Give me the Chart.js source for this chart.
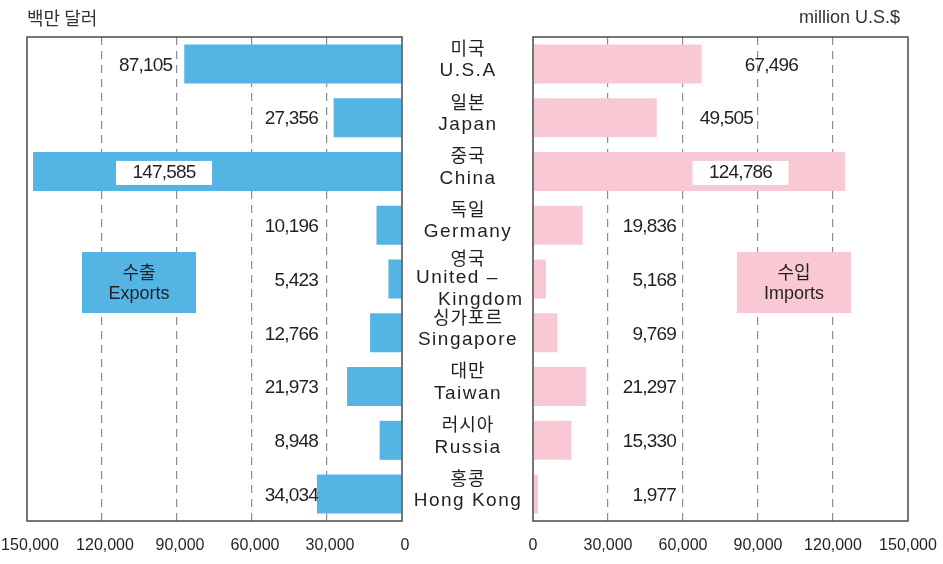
<!DOCTYPE html>
<html>
<head>
<meta charset="utf-8">
<script src="https://cdn.jsdelivr.net/npm/chart.js@4.4.1/dist/chart.umd.min.js"></script>
<style>
  html, body { margin: 0; padding: 0; background: #fff; }
  #wrap { position: relative; width: 943px; height: 564px; }
  canvas { position: absolute; left: 0; top: 0; }
</style>
</head>
<body>
<div id="wrap">
  <canvas id="exp" width="943" height="564"></canvas>
  <canvas id="imp" width="943" height="564"></canvas>
</div>
<script>
// data
const countriesKo = ['미국', '일본', '중국', '독일', '영국', '싱가포르', '대만', '러시아', '홍콩'];
const countriesEn = ['U.S.A', 'Japan', 'China', 'Germany', 'United Kingdom', 'Singapore', 'Taiwan', 'Russia', 'Hong Kong'];
const exportsVal = [87105, 27356, 147585, 10196, 5423, 12766, 21973, 8948, 34034];
const importsVal = [67496, 49505, 124786, 19836, 5168, 9769, 21297, 15330, 1977];
const axisMax = 150000;
const axisStep = 30000;

const BLUE = '#54b5e5';
const PINK = '#f8c9d4';
const TXT = '#231f20';
const NUM_FONT = '19px "Liberation Sans", Arial, sans-serif';
const KO_FONT = '18px "Noto Sans CJK KR", sans-serif';
const EN_FONT = '19px "Liberation Sans", Arial, sans-serif';

const fmt = v => v.toLocaleString('en-US');

function xAxis(reverse) {
  return {
    type: 'linear',
    min: 0,
    max: axisMax,
    reverse: reverse,
    ticks: {
      stepSize: axisStep,
      callback: v => fmt(v),
      color: TXT,
      padding: 15,
      labelOffset: reverse ? 3 : 0,
      maxRotation: 0,
      minRotation: 0,
      autoSkip: false,
      font: { family: '"Liberation Sans", Arial, sans-serif', size: 16 }
    },
    grid: {
      drawTicks: false,
      lineWidth: 1.2,
      color: c => (c.tick && (c.tick.value === 0 || c.tick.value === axisMax)) ? 'rgba(0,0,0,0)' : '#8c8c8c'
    },
    border: { display: false, dash: [8, 6] },
    // keep the plot frame where the reference has it
    afterFit: s => { s.paddingLeft = 0; s.paddingRight = 0; s.height = 33; }
  };
}

function frame(chart) {
  const a = chart.chartArea, ctx = chart.ctx;
  ctx.save();
  ctx.strokeStyle = '#4a4a4a';
  ctx.lineWidth = 1.5;
  ctx.strokeRect(a.left, a.top, a.right - a.left, a.bottom - a.top);
  ctx.restore();
}

function numText(ctx, text, x, y, align) {
  ctx.fillStyle = TXT;
  ctx.font = NUM_FONT;
  ctx.letterSpacing = '-0.8px';
  ctx.textAlign = align;
  ctx.textBaseline = 'middle';
  ctx.fillText(text, x, y);
  ctx.letterSpacing = '0px';
}

function textBox(ctx, cx, cy, w, h, fill, lines) {
  ctx.fillStyle = fill;
  ctx.fillRect(cx - w / 2, cy - h / 2, w, h);
  ctx.fillStyle = TXT;
  ctx.textAlign = 'center';
  ctx.textBaseline = 'middle';
  lines.forEach(l => { ctx.font = l.font; ctx.fillText(l.text, cx, cy + l.dy); });
}

const exportPlugin = {
  id: 'exportDeco',
  afterDraw(chart) {
    const ctx = chart.ctx, xs = chart.scales.x, ys = chart.scales.y;
    frame(chart);
    ctx.save();
    // unit title
    ctx.fillStyle = '#333';
    ctx.font = KO_FONT;
    ctx.textAlign = 'left';
    ctx.textBaseline = 'middle';
    ctx.fillText('백만 달러', 27, 18);

    // value labels
    exportsVal.forEach((v, i) => {
      const y = ys.getPixelForValue(i) + 1.5;
      const end = xs.getPixelForValue(v);
      const zero = xs.getPixelForValue(0);
      if (v > 140000) {
        const cx = zero + 0.645 * (end - zero);
        ctx.fillStyle = '#fff';
        ctx.fillRect(cx - 48, y - 12, 96, 24);
        numText(ctx, fmt(v), cx, y, 'center');
      } else if (v > 40000) {
        numText(ctx, fmt(v), end - 12, y, 'right');
      } else {
        numText(ctx, fmt(v), 318, y, 'right');
      }
    });

    // country names in the middle
    const cx = 468;
    ctx.fillStyle = TXT;
    ctx.textBaseline = 'middle';
    countriesKo.forEach((ko, i) => {
      const y = ys.getPixelForValue(i);
      ctx.textAlign = 'center';
      ctx.font = KO_FONT;
      ctx.letterSpacing = '1px';
      if (countriesEn[i] === 'United Kingdom') {
        ctx.fillText(ko, cx, y - 21);
        ctx.font = EN_FONT;
        ctx.letterSpacing = '1.5px';
        ctx.textAlign = 'left';
        ctx.fillText('United –', 416, y - 1);
        ctx.fillText('Kingdom', 438, y + 21);
      } else {
        ctx.fillText(ko, cx, y - 16);
        ctx.font = EN_FONT;
        ctx.letterSpacing = '1.5px';
        ctx.fillText(countriesEn[i], cx, y + 7);
      }
    });
    ctx.letterSpacing = '0px';

    // legend box
    textBox(ctx, 139, 282.5, 114, 61, BLUE, [
      { text: '수출', font: KO_FONT, dy: -10 },
      { text: 'Exports', font: '18px "Liberation Sans", Arial, sans-serif', dy: 12 }
    ]);
    ctx.restore();
  }
};

const importPlugin = {
  id: 'importDeco',
  afterDraw(chart) {
    const ctx = chart.ctx, xs = chart.scales.x, ys = chart.scales.y;
    frame(chart);
    ctx.save();
    ctx.fillStyle = '#333';
    ctx.font = '18px "Liberation Sans", Arial, sans-serif';
    ctx.textAlign = 'right';
    ctx.textBaseline = 'middle';
    ctx.fillText('million U.S.$', 900, 18);

    importsVal.forEach((v, i) => {
      const y = ys.getPixelForValue(i) + 1.5;
      const end = xs.getPixelForValue(v);
      const zero = xs.getPixelForValue(0);
      if (v > 100000) {
        const cx = zero + 0.665 * (end - zero);
        ctx.fillStyle = '#fff';
        ctx.fillRect(cx - 48, y - 12, 96, 24);
        numText(ctx, fmt(v), cx, y, 'center');
      } else if (v > 40000) {
        numText(ctx, fmt(v), end + 43, y, 'left');
      } else {
        numText(ctx, fmt(v), 676, y, 'right');
      }
    });

    textBox(ctx, 794, 282.5, 114, 61, PINK, [
      { text: '수입', font: KO_FONT, dy: -10 },
      { text: 'Imports', font: '18px "Liberation Sans", Arial, sans-serif', dy: 12 }
    ]);
    ctx.restore();
  }
};

function makeChart(id, values, color, reverse, padding, plugin) {
  return new Chart(document.getElementById(id), {
    type: 'bar',
    data: {
      labels: countriesEn,
      datasets: [{
        data: values,
        backgroundColor: color,
        borderWidth: 0,
        barPercentage: 0.725,
        categoryPercentage: 1
      }]
    },
    options: {
      indexAxis: 'y',
      responsive: false,
      animation: false,
      devicePixelRatio: 1,
      layout: { padding: padding },
      plugins: { legend: { display: false }, tooltip: { enabled: false } },
      scales: {
        x: xAxis(reverse),
        y: { display: false, offset: true }
      }
    },
    plugins: [plugin]
  });
}

makeChart('exp', exportsVal, BLUE, true, { left: 27, right: 541, top: 37, bottom: 10 }, exportPlugin);
makeChart('imp', importsVal, PINK, false, { left: 533, right: 35, top: 37, bottom: 10 }, importPlugin);
</script>
</body>
</html>
